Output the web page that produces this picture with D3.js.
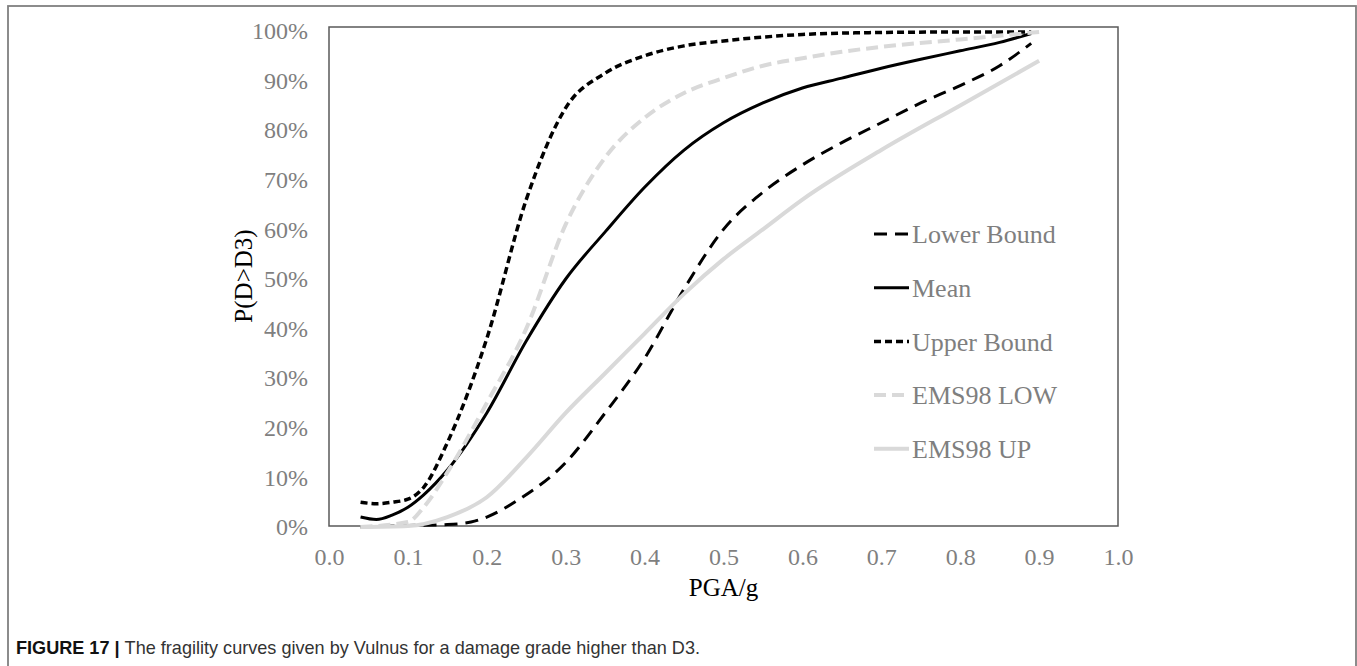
<!DOCTYPE html>
<html>
<head>
<meta charset="utf-8">
<script src="https://cdn.jsdelivr.net/npm/d3@7"></script>
<style>
  html, body { margin: 0; padding: 0; background: #fff; }
  svg { display: block; }
</style>
</head>
<body>
<svg id="chart" width="1357" height="666"></svg>
<script>
// PGA levels (g) at which each fragility curve is sampled
const pgaMean  = [0.04, 0.06, 0.08, 0.10, 0.12, 0.15, 0.20, 0.25, 0.30, 0.35, 0.40, 0.45, 0.50, 0.55, 0.60, 0.65, 0.70, 0.75, 0.80, 0.85, 0.89];
const meanP    = [0.020, 0.015, 0.024, 0.040, 0.065, 0.115, 0.23, 0.375, 0.50, 0.595, 0.685, 0.76, 0.815, 0.855, 0.885, 0.905, 0.925, 0.943, 0.96, 0.977, 0.995];

const pgaUpper = [0.04, 0.06, 0.08, 0.10, 0.12, 0.15, 0.20, 0.25, 0.30, 0.35, 0.40, 0.45, 0.50, 0.60, 0.70, 0.80, 0.89];
const upperP   = [0.050, 0.047, 0.050, 0.056, 0.08, 0.17, 0.38, 0.66, 0.845, 0.915, 0.95, 0.97, 0.98, 0.993, 0.997, 0.998, 0.998];

const pgaLower = [0.04, 0.10, 0.15, 0.18, 0.20, 0.24, 0.30, 0.35, 0.40, 0.45, 0.50, 0.55, 0.60, 0.65, 0.70, 0.75, 0.80, 0.85, 0.89];
const lowerP   = [0.0, 0.003, 0.005, 0.010, 0.02, 0.055, 0.13, 0.23, 0.34, 0.48, 0.60, 0.675, 0.73, 0.775, 0.815, 0.855, 0.89, 0.93, 0.975];

const pgaEmsLow = [0.04, 0.10, 0.12, 0.15, 0.20, 0.25, 0.30, 0.35, 0.40, 0.45, 0.50, 0.55, 0.60, 0.65, 0.70, 0.80, 0.90];
const emsLowP   = [0.0, 0.01, 0.04, 0.11, 0.25, 0.40, 0.61, 0.745, 0.825, 0.875, 0.905, 0.93, 0.945, 0.958, 0.968, 0.983, 0.998];

const pgaEmsUp = [0.04, 0.10, 0.15, 0.20, 0.25, 0.30, 0.35, 0.40, 0.45, 0.50, 0.55, 0.60, 0.70, 0.80, 0.90];
const emsUpP   = [0.0, 0.002, 0.02, 0.06, 0.14, 0.23, 0.31, 0.39, 0.47, 0.54, 0.60, 0.66, 0.76, 0.85, 0.94];

const xTicks = [0.0, 0.1, 0.2, 0.3, 0.4, 0.5, 0.6, 0.7, 0.8, 0.9, 1.0];
const yTicks = [0, 0.1, 0.2, 0.3, 0.4, 0.5, 0.6, 0.7, 0.8, 0.9, 1.0];

const seriesNames = ["Lower Bound", "Mean", "Upper Bound", "EMS98 LOW", "EMS98 UP"];

const series = [
  { name: seriesNames[0], x: pgaLower,  y: lowerP,  color: "#000",    width: 3,   dash: "13,8" },
  { name: seriesNames[1], x: pgaMean,   y: meanP,   color: "#000",    width: 3,   dash: null },
  { name: seriesNames[2], x: pgaUpper,  y: upperP,  color: "#000",    width: 3.5, dash: "7,4" },
  { name: seriesNames[3], x: pgaEmsLow, y: emsLowP, color: "#d9d9d9", width: 4,   dash: "12,6" },
  { name: seriesNames[4], x: pgaEmsUp,  y: emsUpP,  color: "#d9d9d9", width: 4,   dash: null }
];

const svg = d3.select("#chart");

// figure frame
svg.append("rect")
  .attr("x", 8).attr("y", 6).attr("width", 1348).attr("height", 700)
  .attr("fill", "none").attr("stroke", "#808080").attr("stroke-width", 1.8);

const plot = { left: 329, right: 1118, top: 27, bottom: 526 };

const x = d3.scaleLinear().domain([0, 1]).range([plot.left, plot.right]);
const y = d3.scaleLinear().domain([0, 1]).range([527, 31]);

const serif = "'Liberation Serif', 'Times New Roman', serif";

// y axis tick labels
const yAxis = d3.axisLeft(y).tickValues(yTicks).tickSize(0).tickPadding(21)
  .tickFormat(d3.format(".0%"));
const gy = svg.append("g").attr("transform", `translate(${plot.left},0)`).call(yAxis);
gy.select(".domain").remove();
gy.selectAll("text").attr("font-family", serif).attr("font-size", 24).attr("fill", "#7f7f7f");

// x axis tick labels
const xAxis = d3.axisBottom(x).tickValues(xTicks).tickSize(0).tickPadding(22)
  .tickFormat(d3.format(".1f"));
const gx = svg.append("g").attr("transform", `translate(0,${plot.bottom})`).call(xAxis);
gx.select(".domain").remove();
gx.selectAll("text").attr("font-family", serif).attr("font-size", 24).attr("fill", "#7f7f7f");

// plot area border
svg.append("rect")
  .attr("x", plot.left).attr("y", plot.top)
  .attr("width", plot.right - plot.left).attr("height", plot.bottom - plot.top)
  .attr("fill", "none").attr("stroke", "#595959").attr("stroke-width", 1.5);

// curves
const line = d3.line()
  .x(d => x(d[0]))
  .y(d => y(d[1]))
  .curve(d3.curveMonotoneX);

series.forEach(s => {
  const pts = s.x.map((v, i) => [v, s.y[i]]);
  svg.append("path")
    .datum(pts)
    .attr("d", line)
    .attr("fill", "none")
    .attr("stroke", s.color)
    .attr("stroke-width", s.width)
    .attr("stroke-dasharray", s.dash)
    .attr("stroke-linejoin", "round");
});

// legend
const legend = svg.append("g");
const legendTop = 234, legendStep = 53.7;
series.forEach((s, i) => {
  const ly = legendTop + i * legendStep;
  legend.append("line")
    .attr("x1", 874).attr("x2", 909).attr("y1", ly).attr("y2", ly)
    .attr("stroke", s.color).attr("stroke-width", s.width)
    .attr("stroke-dasharray", s.dash);
  legend.append("text")
    .attr("x", 912).attr("y", ly).attr("dy", "0.35em")
    .attr("font-family", serif).attr("font-size", 26).attr("fill", "#7f7f7f")
    .text(s.name);
});

// axis titles
svg.append("text")
  .attr("x", (plot.left + plot.right) / 2).attr("y", 587).attr("dy", "0.35em")
  .attr("text-anchor", "middle")
  .attr("font-family", serif).attr("font-size", 25).attr("fill", "#000")
  .text("PGA/g");

svg.append("text")
  .attr("transform", "translate(243,276) rotate(-90)")
  .attr("dy", "0.35em")
  .attr("text-anchor", "middle")
  .attr("font-family", serif).attr("font-size", 25).attr("fill", "#000")
  .text("P(D>D3)");

// caption
const cap = svg.append("text")
  .attr("x", 16).attr("y", 654)
  .attr("font-family", "'Liberation Sans Narrow', 'Liberation Sans', Arial, sans-serif")
  .attr("font-size", 19)
  .attr("textLength", 684).attr("lengthAdjust", "spacingAndGlyphs");
cap.append("tspan").attr("font-weight", "bold").attr("fill", "#111").text("FIGURE 17 | ");
cap.append("tspan").attr("fill", "#333").text("The fragility curves given by Vulnus for a damage grade higher than D3.");
</script>
</body>
</html>
